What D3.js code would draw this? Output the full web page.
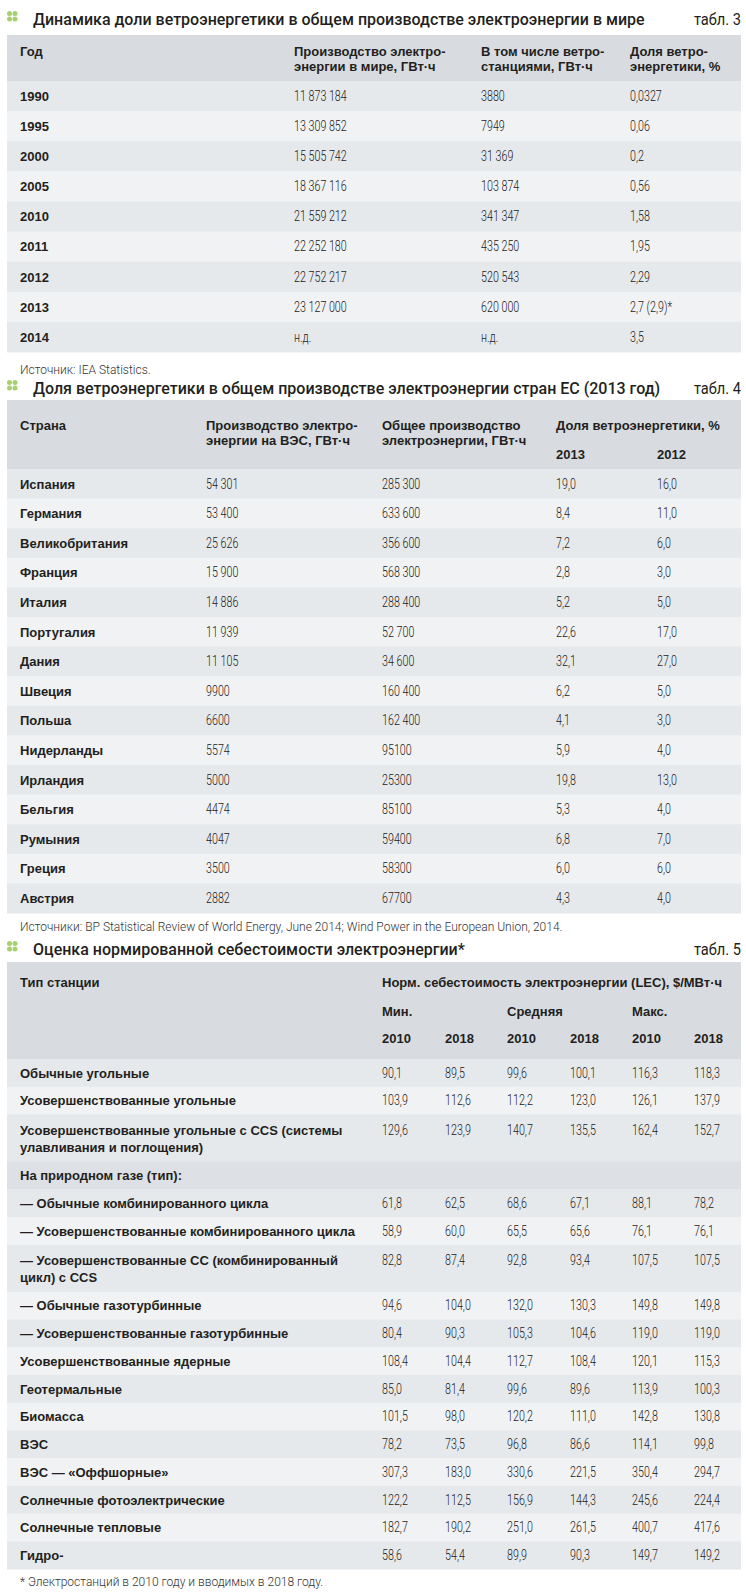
<!DOCTYPE html>
<html><head><meta charset="utf-8">
<script src="https://cdn.jsdelivr.net/npm/d3@7"></script>
<style>
body{margin:0;background:#fff}
svg{display:block}
.num{font-family:Roboto,sans-serif;font-weight:300;font-size:14.3px;fill:#1a1a1a}
.b{font-family:"Liberation Sans",Roboto,sans-serif;font-weight:700;font-size:13px;fill:#231f20}
.title{font-family:Roboto,sans-serif;font-weight:500;font-size:16px;fill:#231f20}
.tabl{font-family:Roboto,sans-serif;font-weight:400;font-size:17px;fill:#231f20}
.src{font-family:Roboto,sans-serif;font-weight:300;font-size:12px;fill:#333}
</style></head><body><svg id="c" width="746" height="1592"></svg>
<script>
// ---- Table 3 data ----
const t3Headers = [["Год"],["Производство электро-","энергии в мире, ГВт·ч"],["В том числе ветро-","станциями, ГВт·ч"],["Доля ветро-","энергетики, %"]];
const t3Years = ["1990","1995","2000","2005","2010","2011","2012","2013","2014"];
const t3World = ["11 873 184","13 309 852","15 505 742","18 367 116","21 559 212","22 252 180","22 752 217","23 127 000","н.д."];
const t3Wind = ["3880","7949","31 369","103 874","341 347","435 250","520 543","620 000","н.д."];
const t3Share = ["0,0327","0,06","0,2","0,56","1,58","1,95","2,29","2,7 (2,9)*","3,5"];

// ---- Table 4 data ----
const t4Headers = [["Страна"],["Производство электро-","энергии на ВЭС, ГВт·ч"],["Общее производство","электроэнергии, ГВт·ч"],["Доля ветроэнергетики, %"]];
const t4Years = ["2013","2012"];
const t4Countries = ["Испания","Германия","Великобритания","Франция","Италия","Португалия","Дания","Швеция","Польша","Нидерланды","Ирландия","Бельгия","Румыния","Греция","Австрия"];
const t4Wind = ["54 301","53 400","25 626","15 900","14 886","11 939","11 105","9900","6600","5574","5000","4474","4047","3500","2882"];
const t4Total = ["285 300","633 600","356 600","568 300","288 400","52 700","34 600","160 400","162 400","95100","25300","85100","59400","58300","67700"];
const t4Share2013 = ["19,0","8,4","7,2","2,8","5,2","22,6","32,1","6,2","4,1","5,9","19,8","5,3","6,8","6,0","4,3"];
const t4Share2012 = ["16,0","11,0","6,0","3,0","5,0","17,0","27,0","5,0","3,0","4,0","13,0","4,0","7,0","6,0","4,0"];

// ---- Table 5 data ----
const t5Headers = ["Тип станции","Норм. себестоимость электроэнергии (LEC), $/МВт·ч"];
const t5Groups = ["Мин.","Средняя","Макс."];
const t5Years = ["2010","2018","2010","2018","2010","2018"];
const t5Types = ["Обычные угольные","Усовершенствованные угольные","Усовершенствованные угольные с CCS (системы\nулавливания и поглощения)","На природном газе (тип):","— Обычные комбинированного цикла","— Усовершенствованные комбинированного цикла","— Усовершенствованные СС (комбинированный\nцикл) с CCS","— Обычные газотурбинные","— Усовершенствованные газотурбинные","Усовершенствованные ядерные","Геотермальные","Биомасса","ВЭС","ВЭС — «Оффшорные»","Солнечные фотоэлектрические","Солнечные тепловые","Гидро-"];
const t5Min2010 = ["90,1","103,9","129,6",null,"61,8","58,9","82,8","94,6","80,4","108,4","85,0","101,5","78,2","307,3","122,2","182,7","58,6"];
const t5Min2018 = ["89,5","112,6","123,9",null,"62,5","60,0","87,4","104,0","90,3","104,4","81,4","98,0","73,5","183,0","112,5","190,2","54,4"];
const t5Avg2010 = ["99,6","112,2","140,7",null,"68,6","65,5","92,8","132,0","105,3","112,7","99,6","120,2","96,8","330,6","156,9","251,0","89,9"];
const t5Avg2018 = ["100,1","123,0","135,5",null,"67,1","65,6","93,4","130,3","104,6","108,4","89,6","111,0","86,6","221,5","144,3","261,5","90,3"];
const t5Max2010 = ["116,3","126,1","162,4",null,"88,1","76,1","107,5","149,8","119,0","120,1","113,9","142,8","114,1","350,4","245,6","400,7","149,7"];
const t5Max2018 = ["118,3","137,9","152,7",null,"78,2","76,1","107,5","149,8","119,0","115,3","100,3","130,8","99,8","294,7","224,4","417,6","149,2"];

const titles = ["Динамика доли ветроэнергетики в общем производстве электроэнергии в мире","Доля ветроэнергетики в общем производстве электроэнергии стран ЕС (2013 год)","Оценка нормированной себестоимости электроэнергии*"];
const tabLabels = ["табл. 3","табл. 4","табл. 5"];
const sources = ["Источник: IEA Statistics.","Источники: BP Statistical Review of World Energy, June 2014; Wind Power in the European Union, 2014.","* Электростанций в 2010 году и вводимых в 2018 году."];

// ---- layout ----
const X0 = 7, X1 = 741, W = X1 - X0;
const C = {head:"#d8dce0", dark:"#e6e9ec", light:"#f1f2f4", section:"#dde1e5"};
const NUMX = 0.75;
const svg = d3.select("#c");

function title(y, text, tab){
  const g = svg.append("g");
  const dots = [[9.5,-11.5],[15,-11.5],[9.5,-6],[15,-6]];
  g.selectAll("circle").data(dots).join("circle")
    .attr("cx", d=>d[0]).attr("cy", d=>y+d[1]).attr("r",2.5).attr("fill","#a6d070");
  g.append("text").attr("class","title").attr("x",33).attr("y",y).text(text);
  g.append("text").attr("class","tabl").attr("text-anchor","end")
    .attr("transform",`translate(${X1},${y}) scale(0.86,1)`).text(tab);
}
function src(y, text, sx){
  svg.append("text").attr("class","src").attr("transform",`translate(20,${y}) scale(${sx},1)`).text(text);
}
function cell(g, x, y, text, cls){
  if(text==null) return;
  const t = g.append("text").attr("class",cls).text(text);
  if(cls==="num") t.attr("transform",`translate(${x},${y}) scale(${NUMX},1)`);
  else t.attr("x",x).attr("y",y);
}

// ===== Table 3 =====
title(25, titles[0], tabLabels[0]);
{
  const g = svg.append("g");
  const cols = [20, 294, 481, 630];
  const hTop = 35, hBot = 81;
  g.append("rect").attr("x",X0).attr("y",hTop).attr("width",W).attr("height",hBot-hTop).attr("fill",C.head);
  t3Headers.forEach((lines,i)=>lines.forEach((l,k)=>cell(g, cols[i], hTop+21+k*15, l, "b")));
  const y = d3.scaleBand().domain(d3.range(t3Years.length)).range([hBot, 352]);
  const bw = y.bandwidth();
  g.selectAll("rect.r").data(t3Years).join("rect").attr("class","r")
    .attr("x",X0).attr("y",(d,i)=>y(i)).attr("width",W).attr("height",bw+0.5)
    .attr("fill",(d,i)=>i%2?C.light:C.dark);
  const cols3 = [[t3Years,"b"],[t3World,"num"],[t3Wind,"num"],[t3Share,"num"]];
  cols3.forEach(([arr,cls],c)=>arr.forEach((v,i)=>cell(g, cols[c], y(i)+bw/2+4.8, v, cls)));
}
src(374, sources[0], 1.0);

// ===== Table 4 =====
title(394, titles[1], tabLabels[1]);
{
  const g = svg.append("g");
  const cols = [20, 206, 382, 556, 657];
  const hTop = 400, hBot = 469;
  g.append("rect").attr("x",X0).attr("y",hTop).attr("width",W).attr("height",hBot-hTop).attr("fill",C.head);
  t4Headers.forEach((lines,i)=>lines.forEach((l,k)=>cell(g, cols[i], hTop+30+k*15, l, "b")));
  t4Years.forEach((yr,k)=>cell(g, cols[3+k], hTop+59, yr, "b"));
  const y = d3.scaleBand().domain(d3.range(t4Countries.length)).range([hBot, 913]);
  const bw = y.bandwidth();
  g.selectAll("rect.r").data(t4Countries).join("rect").attr("class","r")
    .attr("x",X0).attr("y",(d,i)=>y(i)).attr("width",W).attr("height",bw+0.5)
    .attr("fill",(d,i)=>i%2?C.light:C.dark);
  const cols4 = [[t4Countries,"b"],[t4Wind,"num"],[t4Total,"num"],[t4Share2013,"num"],[t4Share2012,"num"]];
  cols4.forEach(([arr,cls],c)=>arr.forEach((v,i)=>cell(g, cols[c], y(i)+bw/2+4.8, v, cls)));
}
src(931, sources[1], 1.0);

// ===== Table 5 =====
title(955, titles[2], tabLabels[2]);
{
  const g = svg.append("g");
  const cols = [382, 445, 507, 570, 632, 694];
  const hTop = 962, hBot = 1059;
  g.append("rect").attr("x",X0).attr("y",hTop).attr("width",W).attr("height",hBot-hTop).attr("fill",C.head);
  cell(g, 20, hTop+25, t5Headers[0], "b");
  cell(g, cols[0], hTop+25, t5Headers[1], "b");
  t5Groups.forEach((t,k)=>cell(g, cols[k*2], hTop+54, t, "b"));
  t5Years.forEach((t,k)=>cell(g, cols[k], hTop+81, t, "b"));

  const units = t5Types.map(t=>t.split("\n").length>1 ? 1.7 : 1);
  const cum = [0]; units.forEach(u=>cum.push(cum[cum.length-1]+u));
  const y = d3.scaleLinear().domain([0, cum[cum.length-1]]).range([hBot, 1569]);
  const unitPx = y(1)-y(0);
  g.selectAll("rect.r").data(t5Types).join("rect").attr("class","r")
    .attr("x",X0).attr("y",(d,i)=>y(cum[i])).attr("width",W).attr("height",(d,i)=>y(cum[i+1])-y(cum[i])+0.5)
    .attr("fill",(d,i)=>t5Min2010[i]==null?C.section:(i%2?C.light:C.dark));
  t5Types.forEach((t,i)=>{
    const base = y(cum[i]) + (units[i]>1 ? 15.5 : unitPx/2) + 4.8;
    t.split("\n").forEach((l,k)=>cell(g, 20, base+k*17, l, "b"));
    [t5Min2010,t5Min2018,t5Avg2010,t5Avg2018,t5Max2010,t5Max2018].forEach((arr,c)=>cell(g, cols[c], base, arr[i], "num"));
  });
}
src(1586, sources[2], 1.0);
</script></body></html>
